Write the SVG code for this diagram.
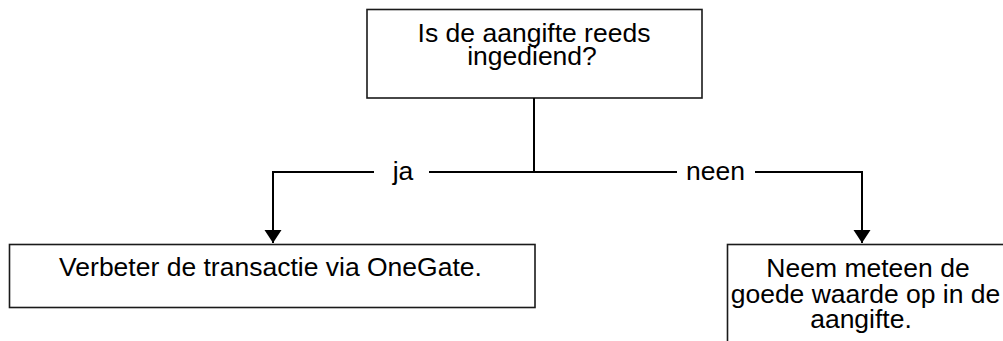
<svg xmlns="http://www.w3.org/2000/svg" width="1003" height="341" viewBox="0 0 1003 341">
  <style>
    .box { fill: #ffffff; stroke: #1a1a1a; stroke-width: 1.6; }
    .lbl { font-family: "Liberation Sans", Arial, sans-serif; font-size: 26.5px; fill: #000000; text-anchor: middle; }
    .conn { fill: none; stroke: #000000; stroke-width: 2; }
  </style>
  <defs>
    <marker id="arrow" markerUnits="userSpaceOnUse" markerWidth="18" markerHeight="18" refX="13" refY="8.5" orient="auto">
      <path d="M0,0 L13,8.5 L0,17 Z" fill="#000000"/>
    </marker>
  </defs>
  <rect width="1003" height="341" fill="#ffffff"/>

  <g id="node-question">
    <rect class="box" x="367" y="9.5" width="335" height="88.5"/>
    <text class="lbl" x="534" y="41.5">Is de aangifte reeds</text>
    <text class="lbl" x="532" y="65">ingediend?</text>
  </g>

  <g id="node-ja">
    <rect class="box" x="9.5" y="244.5" width="525.5" height="63"/>
    <text class="lbl" x="270.5" y="276">Verbeter de transactie via OneGate.</text>
  </g>

  <g id="node-neen">
    <rect class="box" x="727.5" y="244.5" width="290" height="110"/>
    <text class="lbl" x="868" y="277.3">Neem meteen de</text>
    <text class="lbl" x="865.5" y="303">goede waarde op in de</text>
    <text class="lbl" x="861" y="328.3">aangifte.</text>
  </g>

  <g id="connectors">
    <line class="conn" x1="534" y1="98" x2="534" y2="172"/>
    <line class="conn" x1="429" y1="172" x2="677" y2="172"/>
    <polyline class="conn" points="374,172 273,172 273,243" marker-end="url(#arrow)"/>
    <polyline class="conn" points="755,172 862,172 862,243" marker-end="url(#arrow)"/>
    <text class="lbl" x="403" y="180">ja</text>
    <text class="lbl" x="715.5" y="180">neen</text>
  </g>
</svg>
